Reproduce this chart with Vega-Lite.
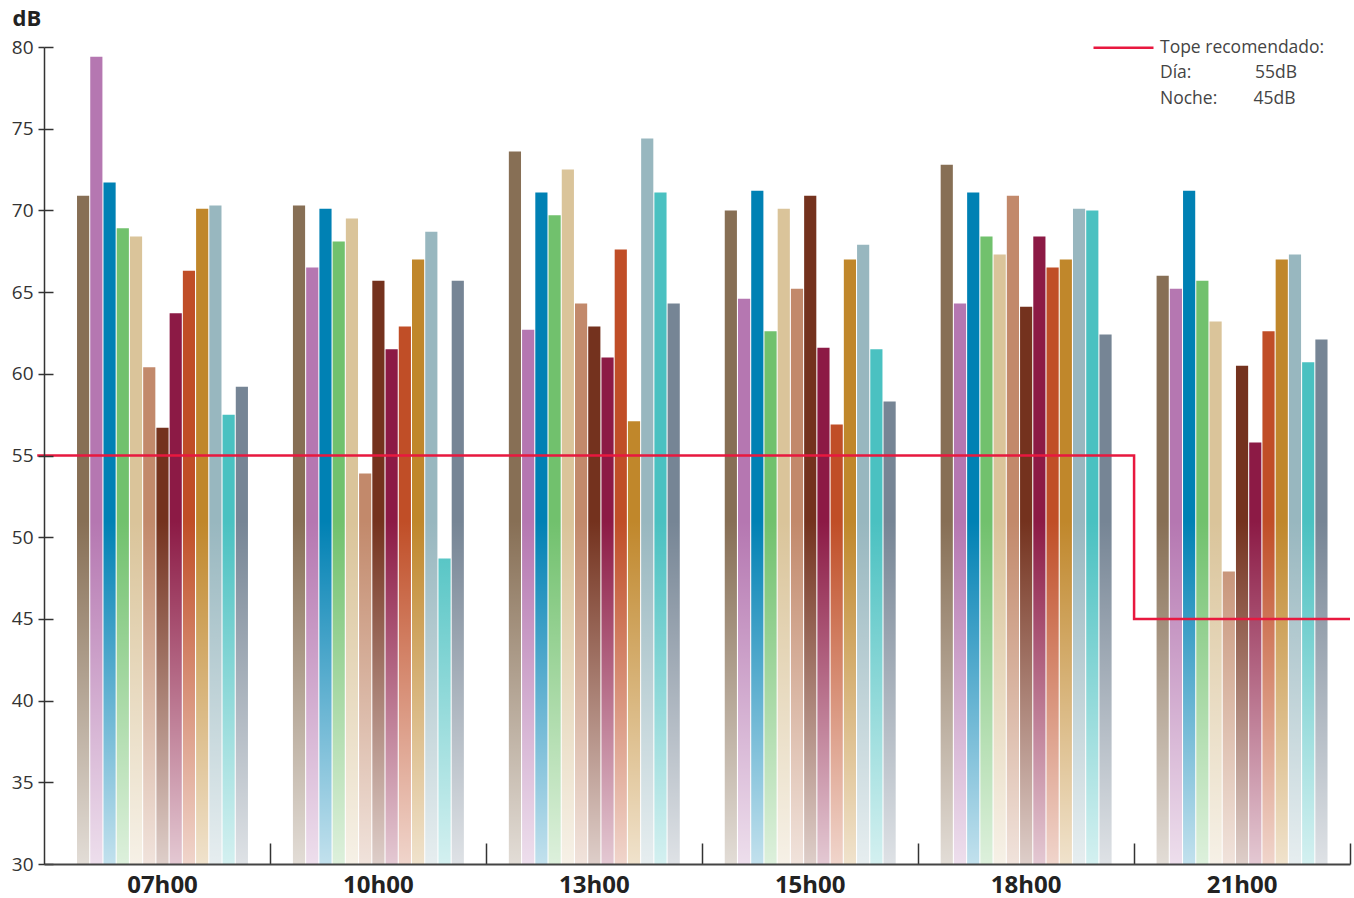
{
  "$schema": "https://vega.github.io/schema/vega-lite/v6.json",
  "width": 1306,
  "height": 817,
  "autosize": {"type": "none"},
  "padding": {"left": 44, "top": 47, "right": 4, "bottom": 34},
  "background": "white",
  "config": {"view": {"stroke": null}, "font": "Open Sans"},
  "datasets": {
    "niveles": [
      {"hora": "07h00", "punto": "P01", "db": 70.9}, {"hora": "07h00", "punto": "P02", "db": 79.4}, {"hora": "07h00", "punto": "P03", "db": 71.7}, {"hora": "07h00", "punto": "P04", "db": 68.9}, {"hora": "07h00", "punto": "P05", "db": 68.4}, {"hora": "07h00", "punto": "P06", "db": 60.4}, {"hora": "07h00", "punto": "P07", "db": 56.7}, {"hora": "07h00", "punto": "P08", "db": 63.7}, {"hora": "07h00", "punto": "P09", "db": 66.3}, {"hora": "07h00", "punto": "P10", "db": 70.1}, {"hora": "07h00", "punto": "P11", "db": 70.3}, {"hora": "07h00", "punto": "P12", "db": 57.5}, {"hora": "07h00", "punto": "P13", "db": 59.2},
      {"hora": "10h00", "punto": "P01", "db": 70.3}, {"hora": "10h00", "punto": "P02", "db": 66.5}, {"hora": "10h00", "punto": "P03", "db": 70.1}, {"hora": "10h00", "punto": "P04", "db": 68.1}, {"hora": "10h00", "punto": "P05", "db": 69.5}, {"hora": "10h00", "punto": "P06", "db": 53.9}, {"hora": "10h00", "punto": "P07", "db": 65.7}, {"hora": "10h00", "punto": "P08", "db": 61.5}, {"hora": "10h00", "punto": "P09", "db": 62.9}, {"hora": "10h00", "punto": "P10", "db": 67.0}, {"hora": "10h00", "punto": "P11", "db": 68.7}, {"hora": "10h00", "punto": "P12", "db": 48.7}, {"hora": "10h00", "punto": "P13", "db": 65.7},
      {"hora": "13h00", "punto": "P01", "db": 73.6}, {"hora": "13h00", "punto": "P02", "db": 62.7}, {"hora": "13h00", "punto": "P03", "db": 71.1}, {"hora": "13h00", "punto": "P04", "db": 69.7}, {"hora": "13h00", "punto": "P05", "db": 72.5}, {"hora": "13h00", "punto": "P06", "db": 64.3}, {"hora": "13h00", "punto": "P07", "db": 62.9}, {"hora": "13h00", "punto": "P08", "db": 61.0}, {"hora": "13h00", "punto": "P09", "db": 67.6}, {"hora": "13h00", "punto": "P10", "db": 57.1}, {"hora": "13h00", "punto": "P11", "db": 74.4}, {"hora": "13h00", "punto": "P12", "db": 71.1}, {"hora": "13h00", "punto": "P13", "db": 64.3},
      {"hora": "15h00", "punto": "P01", "db": 70.0}, {"hora": "15h00", "punto": "P02", "db": 64.6}, {"hora": "15h00", "punto": "P03", "db": 71.2}, {"hora": "15h00", "punto": "P04", "db": 62.6}, {"hora": "15h00", "punto": "P05", "db": 70.1}, {"hora": "15h00", "punto": "P06", "db": 65.2}, {"hora": "15h00", "punto": "P07", "db": 70.9}, {"hora": "15h00", "punto": "P08", "db": 61.6}, {"hora": "15h00", "punto": "P09", "db": 56.9}, {"hora": "15h00", "punto": "P10", "db": 67.0}, {"hora": "15h00", "punto": "P11", "db": 67.9}, {"hora": "15h00", "punto": "P12", "db": 61.5}, {"hora": "15h00", "punto": "P13", "db": 58.3},
      {"hora": "18h00", "punto": "P01", "db": 72.8}, {"hora": "18h00", "punto": "P02", "db": 64.3}, {"hora": "18h00", "punto": "P03", "db": 71.1}, {"hora": "18h00", "punto": "P04", "db": 68.4}, {"hora": "18h00", "punto": "P05", "db": 67.3}, {"hora": "18h00", "punto": "P06", "db": 70.9}, {"hora": "18h00", "punto": "P07", "db": 64.1}, {"hora": "18h00", "punto": "P08", "db": 68.4}, {"hora": "18h00", "punto": "P09", "db": 66.5}, {"hora": "18h00", "punto": "P10", "db": 67.0}, {"hora": "18h00", "punto": "P11", "db": 70.1}, {"hora": "18h00", "punto": "P12", "db": 70.0}, {"hora": "18h00", "punto": "P13", "db": 62.4},
      {"hora": "21h00", "punto": "P01", "db": 66.0}, {"hora": "21h00", "punto": "P02", "db": 65.2}, {"hora": "21h00", "punto": "P03", "db": 71.2}, {"hora": "21h00", "punto": "P04", "db": 65.7}, {"hora": "21h00", "punto": "P05", "db": 63.2}, {"hora": "21h00", "punto": "P06", "db": 47.9}, {"hora": "21h00", "punto": "P07", "db": 60.5}, {"hora": "21h00", "punto": "P08", "db": 55.8}, {"hora": "21h00", "punto": "P09", "db": 62.6}, {"hora": "21h00", "punto": "P10", "db": 67.0}, {"hora": "21h00", "punto": "P11", "db": 67.3}, {"hora": "21h00", "punto": "P12", "db": 60.7}, {"hora": "21h00", "punto": "P13", "db": 62.1}
    ],
    "tope": [
      {"hora_idx": -0.58, "limite": 55},
      {"hora_idx": 4.5, "limite": 45},
      {"hora_idx": 5.5, "limite": 45}
    ]
  },
  "layer": [
    {
      "data": {"name": "niveles"},
      "mark": {"type": "bar"},
      "encoding": {
        "x": {
          "field": "hora", "type": "nominal",
          "sort": ["07h00", "10h00", "13h00", "15h00", "18h00", "21h00"],
          "scale": {"paddingInner": 0.2083, "paddingOuter": 0.1285, "align": 0.595},
          "axis": {
            "title": null, "labelAngle": 0, "labelFontSize": 24, "labelFontWeight": "bold", "labelColor": "#222",
            "labelPadding": 30, "bandPosition": 1.1316, "tickSize": -21, "tickColor": "#333", "tickWidth": 1.5,
            "domainColor": "#444", "domainWidth": 2, "zindex": 1
          }
        },
        "xOffset": {
          "field": "punto", "type": "nominal",
          "scale": {"paddingInner": 0.08, "paddingOuter": 0}
        },
        "y": {
          "field": "db", "type": "quantitative",
          "scale": {"domain": [30, 80], "zero": false, "nice": false},
          "axis": {
            "orient": "left",
            "values": [30, 35, 40, 45, 50, 55, 60, 65, 70, 75, 80],
            "title": "dB", "titleAngle": 0, "titleAlign": "left", "titleBaseline": "alphabetic",
            "titleX": -32, "titleY": -22, "titleFontSize": 22, "titleFontWeight": "bold", "titleColor": "#222",
            "labelFontSize": 19, "labelColor": "#333", "labelPadding": 5,
            "tickSize": 6, "tickColor": "#333", "tickWidth": 1.5,
            "grid": true, "gridColor": "#333", "gridWidth": 1.5, "gridDash": [9, 3000],
            "domainColor": "#333", "domainWidth": 1.5, "zindex": 1
          }
        },
        "y2": {"datum": 30},
        "color": {
          "field": "punto", "type": "nominal",
          "scale": {
            "domain": ["P01", "P02", "P03", "P04", "P05", "P06", "P07", "P08", "P09", "P10", "P11", "P12", "P13"],
            "range": ["#876f55", "#b577b1", "#0081b4", "#71c16d", "#dac49a", "#c2896b", "#74321e", "#8c1a45", "#c04e27", "#c0872b", "#98b7bf", "#4ac1c1", "#768595"]
          },
          "legend": null
        }
      }
    },
    {
      "data": {"values": [{}]},
      "mark": {
        "type": "rect",
        "fill": {
          "gradient": "linear", "x1": 0, "y1": 0, "x2": 0, "y2": 1,
          "stops": [
            {"offset": 0, "color": "rgba(255,255,255,0)"},
            {"offset": 1, "color": "rgba(255,255,255,0.76)"}
          ]
        }
      },
      "encoding": {
        "y": {"datum": 51, "type": "quantitative"},
        "y2": {"datum": 30}
      }
    },
    {
      "data": {"name": "tope"},
      "mark": {"type": "line", "interpolate": "step-after", "strokeWidth": 2.5, "clip": false},
      "encoding": {
        "x": {"field": "hora_idx", "type": "quantitative", "scale": {"domain": [-0.5486, 5.5], "nice": false, "zero": false}, "axis": null},
        "y": {"field": "limite", "type": "quantitative"},
        "stroke": {
          "datum": "Tope recomendado:",
          "scale": {
            "domain": ["Tope recomendado:", "Día:\u00a0\u00a0\u00a0\u00a0\u00a0\u00a0\u00a0\u00a0\u00a0\u00a0\u00a0\u00a0\u00a0\u00a055dB", "Noche:\u00a0\u00a0\u00a0\u00a0\u00a0\u00a0\u00a0\u00a045dB"],
            "range": ["#e8183f", "transparent", "transparent"]
          },
          "legend": {
            "orient": "none", "legendX": 1048, "legendY": -8, "title": null,
            "symbolType": "stroke", "symbolSize": 3600, "symbolStrokeWidth": 2.5,
            "labelFontSize": 17.5, "labelColor": "#444", "labelLimit": 400, "labelOffset": 5,
            "clipHeight": 17.5, "rowPadding": 6.5, "padding": 0
          }
        }
      }
    }
  ],
  "resolve": {"scale": {"x": "independent"}, "axis": {"y": "shared"}}
}
